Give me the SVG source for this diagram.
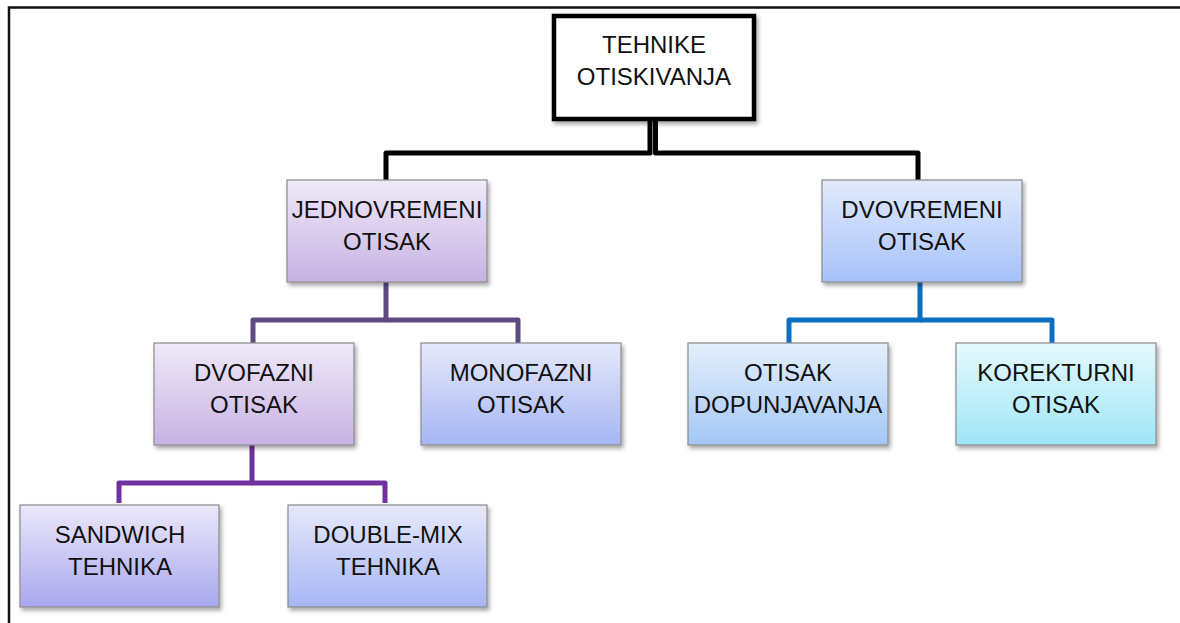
<svg xmlns="http://www.w3.org/2000/svg" width="1180" height="623" viewBox="0 0 1180 623">
  <style>
    .lbl { font-family: "Liberation Sans", Arial, sans-serif; font-size: 24px; fill: #111; text-anchor: middle; }
    .box { stroke: #8a8a8a; stroke-width: 1.2; filter: url(#sh); }
    .conn { fill: none; stroke-width: 5; stroke-linejoin: round; stroke-linecap: butt; }
  </style>
  <defs>
    <filter id="sh" x="-10%" y="-10%" width="125%" height="130%">
      <feDropShadow dx="2" dy="3" stdDeviation="2" flood-color="#000" flood-opacity="0.35"/>
    </filter>
    <linearGradient id="gLav" x1="0" y1="0" x2="0" y2="1">
      <stop offset="0" stop-color="#efe9f8"/>
      <stop offset="1" stop-color="#c7b2e4"/>
    </linearGradient>
    <linearGradient id="gBlue" x1="0" y1="0" x2="0" y2="1">
      <stop offset="0" stop-color="#e1eafc"/>
      <stop offset="1" stop-color="#a6c1fa"/>
    </linearGradient>
    <linearGradient id="gPeri" x1="0" y1="0" x2="0" y2="1">
      <stop offset="0" stop-color="#e6e8fb"/>
      <stop offset="1" stop-color="#a6b6f4"/>
    </linearGradient>
    <linearGradient id="gSky" x1="0" y1="0" x2="0" y2="1">
      <stop offset="0" stop-color="#e4effc"/>
      <stop offset="1" stop-color="#a3c7f6"/>
    </linearGradient>
    <linearGradient id="gCyan" x1="0" y1="0" x2="0" y2="1">
      <stop offset="0" stop-color="#e6f9fd"/>
      <stop offset="1" stop-color="#9ee6f7"/>
    </linearGradient>
    <linearGradient id="gViolet" x1="0" y1="0" x2="0" y2="1">
      <stop offset="0" stop-color="#ebe8fa"/>
      <stop offset="1" stop-color="#a9a7ee"/>
    </linearGradient>
  </defs>

  <rect width="1180" height="623" fill="#fff"/>
  <g id="frame" fill="none" stroke="#111" stroke-width="2.5">
    <path d="M9,623 V7.5 H1180"/>
  </g>

  <g id="connectors">
    <path class="conn" stroke="#000" d="M650,120 V153 H386 V180"/>
    <path class="conn" stroke="#000" d="M655.5,120 V153 H918 V180"/>
    <path class="conn" stroke="#5c4a80" d="M386,282 V320 H253 V343"/>
    <path class="conn" stroke="#5c4a80" d="M386,320 H518 V343"/>
    <path class="conn" stroke="#0a6fc2" d="M920,282 V320 H789 V343"/>
    <path class="conn" stroke="#0a6fc2" d="M920,320 H1052 V343"/>
    <path class="conn" stroke="#7030a0" d="M252,445 V483 H119 V503"/>
    <path class="conn" stroke="#7030a0" d="M252,483 H385 V503"/>
  </g>

  <g id="root">
    <rect x="554" y="16" width="200" height="103" fill="#fff" stroke="#000" stroke-width="4.5" filter="url(#sh)"/>
    <text class="lbl" x="654" y="53">TEHNIKE</text>
    <text class="lbl" x="654" y="85">OTISKIVANJA</text>
  </g>

  <g id="jednovremeni">
    <rect class="box" x="287" y="180" width="200" height="102" fill="url(#gLav)"/>
    <text class="lbl" x="387" y="218">JEDNOVREMENI</text>
    <text class="lbl" x="387" y="250">OTISAK</text>
  </g>

  <g id="dvovremeni">
    <rect class="box" x="822" y="180" width="200" height="102" fill="url(#gBlue)"/>
    <text class="lbl" x="922" y="218">DVOVREMENI</text>
    <text class="lbl" x="922" y="250">OTISAK</text>
  </g>

  <g id="dvofazni">
    <rect class="box" x="154" y="343" width="200" height="102" fill="url(#gLav)"/>
    <text class="lbl" x="254" y="381">DVOFAZNI</text>
    <text class="lbl" x="254" y="413">OTISAK</text>
  </g>

  <g id="monofazni">
    <rect class="box" x="421" y="343" width="200" height="102" fill="url(#gPeri)"/>
    <text class="lbl" x="521" y="381">MONOFAZNI</text>
    <text class="lbl" x="521" y="413">OTISAK</text>
  </g>

  <g id="dopunjavanja">
    <rect class="box" x="688" y="343" width="200" height="102" fill="url(#gSky)"/>
    <text class="lbl" x="788" y="381">OTISAK</text>
    <text class="lbl" x="788" y="413">DOPUNJAVANJA</text>
  </g>

  <g id="korekturni">
    <rect class="box" x="956" y="343" width="200" height="102" fill="url(#gCyan)"/>
    <text class="lbl" x="1056" y="381">KOREKTURNI</text>
    <text class="lbl" x="1056" y="413">OTISAK</text>
  </g>

  <g id="sandwich">
    <rect class="box" x="20" y="505" width="199" height="102" fill="url(#gViolet)"/>
    <text class="lbl" x="120" y="543">SANDWICH</text>
    <text class="lbl" x="120" y="575">TEHNIKA</text>
  </g>

  <g id="doublemix">
    <rect class="box" x="288" y="505" width="199" height="102" fill="url(#gPeri)"/>
    <text class="lbl" x="388" y="543">DOUBLE-MIX</text>
    <text class="lbl" x="388" y="575">TEHNIKA</text>
  </g>
</svg>
